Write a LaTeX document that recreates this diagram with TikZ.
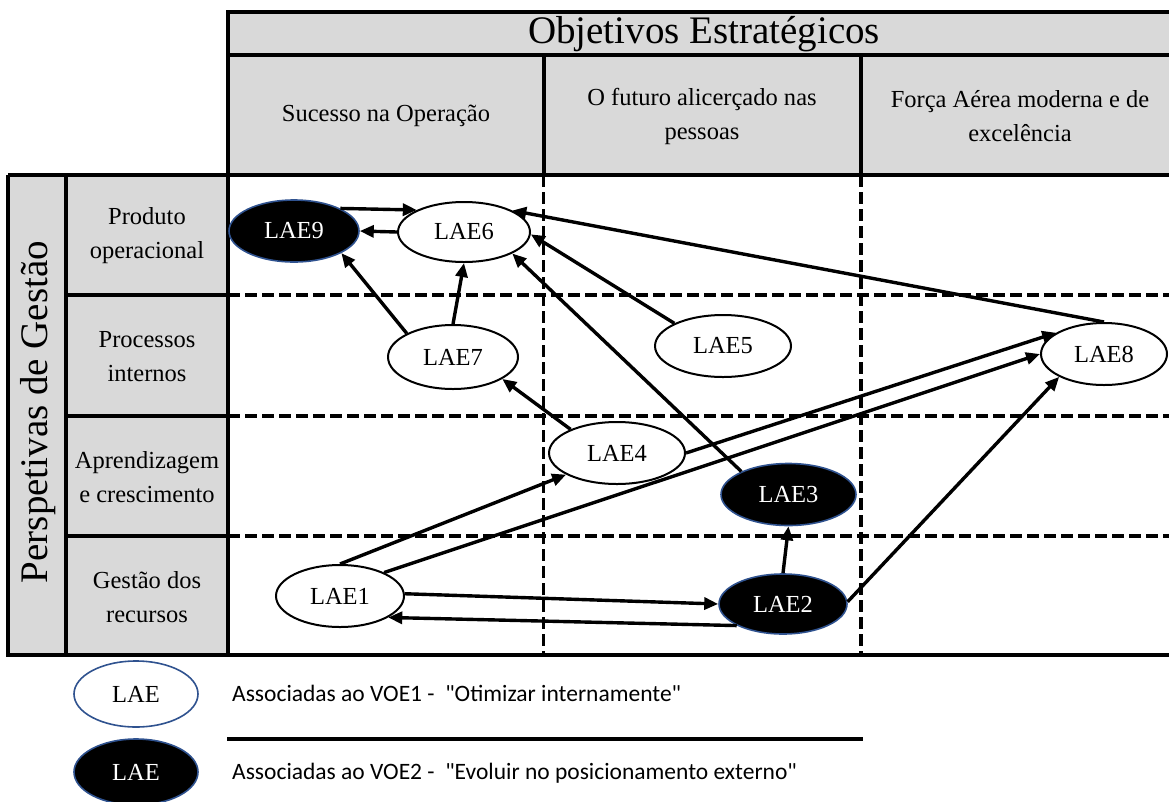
\documentclass[tikz,border=0pt]{standalone}
\usepackage{fontspec}
\setmainfont{Liberation Serif}
\newfontfamily\legendfont{Carlito}
\newfontfamily\timesfont{Liberation Serif}
\usetikzlibrary{shapes.geometric,arrows.meta}
\definecolor{hdrgray}{HTML}{D9D9D9}
\definecolor{rimblue}{HTML}{2F528F}
\begin{document}
\begin{tikzpicture}[x=1pt,y=-1pt,
  lae/.style={ellipse,draw=black,line width=2pt,fill=white,inner sep=0pt,
    font=\timesfont\fontsize{24.5}{28}\selectfont},
  laeb/.style={ellipse,draw=rimblue,line width=1.6pt,fill=black,text=white,inner sep=0pt,
    font=\timesfont\fontsize{24.5}{28}\selectfont},
  conn/.style={line width=3.4pt,-{Triangle[length=14pt,width=12pt]}},
  gridline/.style={line width=3.2pt,dash pattern=on 12pt off 5pt},
  frame/.style={line width=4pt},
  lbl/.style={align=center,inner sep=0pt,font=\timesfont\fontsize{24.5}{34}\selectfont},
  legtext/.style={anchor=west,inner sep=0pt,font=\legendfont\fontsize{23.5}{28}\selectfont}]
\useasboundingbox (0,0) rectangle (1169,801);
\clip (0,0) rectangle (1169,801);
% backgrounds
\fill[hdrgray] (228,12) rectangle (1185,175);
\fill[hdrgray] (8,175) rectangle (228,655);
% dashed grid in body
\draw[gridline] (228,295) -- (1185,295);
\draw[gridline] (228,416) -- (1185,416);
\draw[gridline] (228,536) -- (1185,536);
\draw[gridline] (543.5,175) -- (543.5,655);
\draw[gridline] (861,175) -- (861,655);
% frame lines
\draw[frame] (1185,12) -- (228,12) -- (228,655);
\draw[frame] (228,55) -- (1185,55);
\draw[frame] (8,175) -- (1185,175);
\draw[frame] (543.5,55) -- (543.5,175);
\draw[frame] (861,55) -- (861,175);
\draw[frame] (8,175) -- (8,655);
\draw[frame] (66,175) -- (66,655);
\draw[frame] (66,295) -- (228,295);
\draw[frame] (66,416) -- (228,416);
\draw[frame] (66,536) -- (228,536);
\draw[line width=4.5pt] (6,655) -- (1185,655);
% header texts
\node[inner sep=0pt,font=\timesfont\fontsize{39}{44}\selectfont] (title) at (704,34) {Objetivos Estratégicos};
\node[lbl] (c1) at (386,116) {Sucesso na Operação};
\node[lbl] (c2) at (702,116) {O futuro alicerçado nas\\pessoas};
\node[lbl] (c3) at (1020,116) {Força Aérea moderna e de\\excelência};
% left labels
\node[rotate=90,inner sep=0pt,font=\timesfont\fontsize{39}{44}\selectfont] (persp) at (38,412) {Perspetivas de Gestão};
\node[lbl] (r1) at (147,236) {Produto\\operacional};
\node[lbl] (r2) at (147,357) {Processos\\internos};
\node[lbl] (r3) at (147,477) {Aprendizagem\\e crescimento};
\node[lbl] (r4) at (147,597) {Gestão dos\\recursos};
% LAE nodes
\node[laeb,minimum width=130pt,minimum height=62pt] (LAE9) at (294,231) {LAE9};
\node[lae,minimum width=132pt,minimum height=60pt] (LAE6) at (464,232) {LAE6};
\node[lae,minimum width=130pt,minimum height=64pt] (LAE7) at (453,357) {LAE7};
\node[lae,minimum width=136pt,minimum height=62pt] (LAE5) at (723,346) {LAE5};
\node[lae,minimum width=126pt,minimum height=62pt] (LAE8) at (1104,354) {LAE8};
\node[lae,minimum width=136pt,minimum height=62pt] (LAE4) at (617,453) {LAE4};
\node[laeb,minimum width=135pt,minimum height=62pt] (LAE3) at (788.5,494.5) {LAE3};
\node[laeb,minimum width=128pt,minimum height=60pt] (LAE2) at (783,604) {LAE2};
\node[lae,minimum width=128pt,minimum height=62pt] (LAE1) at (340,596) {LAE1};
% connectors
\draw[conn] (LAE9.26) -- (LAE6.155);
\draw[conn] (LAE6.west) -- (LAE9.east);
\draw[conn] (LAE7.153) -- (LAE9.-25);
\draw[conn] (LAE7.north) -- (LAE6.south);
\draw[conn] (LAE3.154) -- (LAE6.-24);
\draw[conn] (LAE5.155) -- (LAE6.-2);
\draw[conn] (LAE8.north) -- (LAE6.24);
\draw[conn] (LAE4.153) -- (LAE7.-24);
\draw[conn] (LAE1.north) -- (LAE4.203);
\draw[conn] (LAE4.east) -- (LAE8.156);
\draw[conn] (LAE1.28) -- (LAE8.west);
\draw[conn] (LAE2.2) -- (LAE8.207);
\draw[conn] (LAE1.2) -- (LAE2.west);
\draw[conn] (LAE2.205) -- (LAE1.-24);
\draw[conn] (LAE2.north) -- (LAE3.south);
% legend
\node[lae,draw=rimblue,line width=1.6pt,minimum width=124pt,minimum height=66pt] (legA) at (136,694) {LAE};
\node[laeb,minimum width=124pt,minimum height=66pt] (legB) at (136,772) {LAE};
\node[legtext] (legAt) at (232,693) {Associadas ao VOE1 -\ \ "Otimizar internamente"};
\node[legtext] (legBt) at (232,773) {Associadas ao VOE2 -\ \ "Evoluir no posicionamento externo"};
\draw[line width=4pt] (227,739) -- (863,739);
\end{tikzpicture}
\end{document}
